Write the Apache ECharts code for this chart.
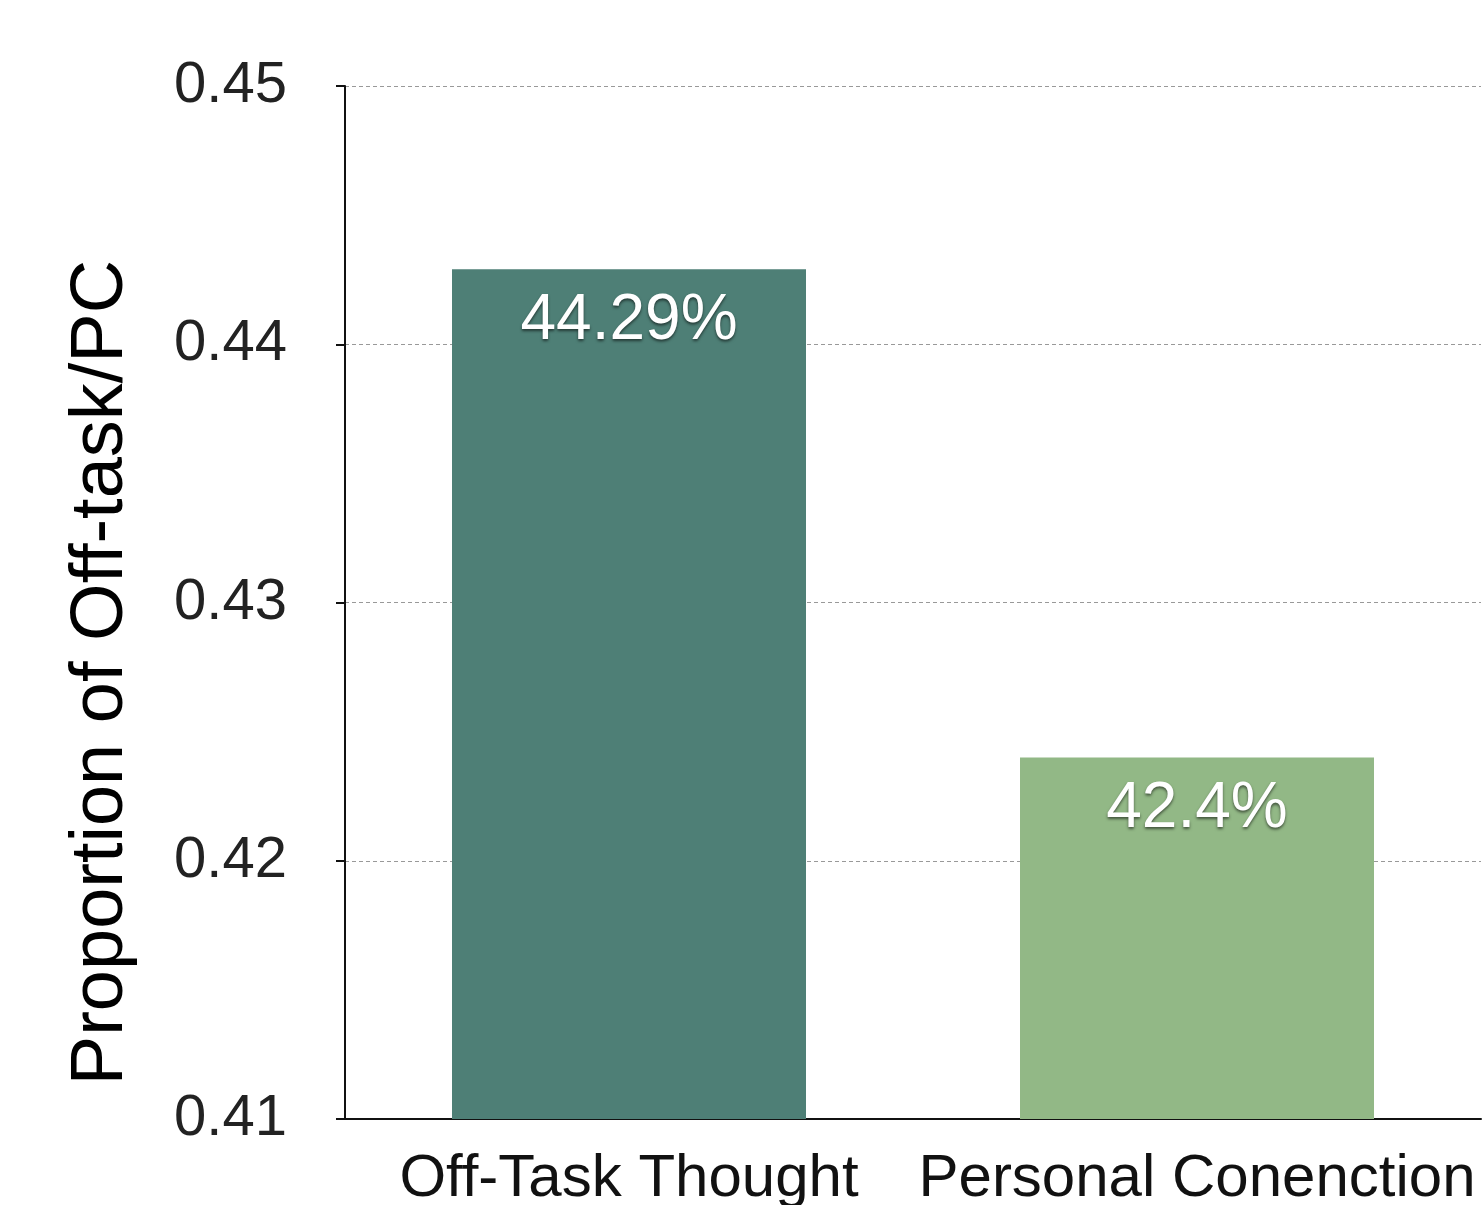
<!DOCTYPE html>
<html>
<head>
<meta charset="utf-8">
<script src="https://cdn.jsdelivr.net/npm/echarts@6/dist/echarts.min.js"></script>
<style>
  html, body { margin: 0; padding: 0; background: #fff; }
  #chart { width: 1482px; height: 1205px; }
</style>
</head>
<body>
<div id="chart"></div>
<script>
var categories = ["Off-Task Thought", "Personal Conenction"];
var values = [0.4429, 0.424];
var labels = ["44.29%", "42.4%"];
var barColors = ["#4e7f76", "#92b886"];

var font = "'Liberation Sans', Arial, sans-serif";

var chart = echarts.init(document.getElementById("chart"));

var data = [];
for (var i = 0; i < values.length; i++) {
    data.push({
        value: values[i],
        itemStyle: { color: barColors[i] },
        label: { formatter: labels[i] }
    });
}

var option = {
    backgroundColor: "#fff",
    animation: false,
    grid: { left: 345, right: 1, top: 86, bottom: 86, outerBoundsMode: "none", containLabel: false },
    xAxis: {
        type: "category",
        data: categories,
        axisLine: { lineStyle: { color: "#111", width: 2 } },
        axisTick: { show: false },
        axisLabel: {
            interval: 0, hideOverlap: false,
            color: "#111", fontSize: 60, fontFamily: font, margin: 30
        }
    },
    yAxis: {
        type: "value",
        min: 0.41,
        max: 0.45,
        interval: 0.01,
        name: "Proportion of Off-task/PC",
        nameLocation: "middle",
        nameGap: 206,
        nameTextStyle: {
            color: "#000", fontSize: 74, fontFamily: font,
            padding: [0, 140, 0, 0]
        },
        axisLine: { show: true, lineStyle: { color: "#111", width: 2 } },
        axisTick: { show: true, length: 9, lineStyle: { color: "#111", width: 2 } },
        axisLabel: {
            color: "#222", fontSize: 58, fontFamily: font, margin: 58,
            formatter: function (v) { return v.toFixed(2); }
        },
        splitLine: { lineStyle: { color: "#999", width: 1, type: [4, 3] } }
    },
    series: [{
        type: "bar",
        barWidth: 354,
        data: data,
        label: {
            show: true,
            position: "insideTop",
            distance: 20,
            color: "#fff",
            fontSize: 64,
            fontFamily: font,
            textShadowColor: "rgba(0,0,0,0.55)",
            textShadowBlur: 3,
            textShadowOffsetY: 2
        }
    }]
};

chart.setOption(option);
</script>
</body>
</html>
